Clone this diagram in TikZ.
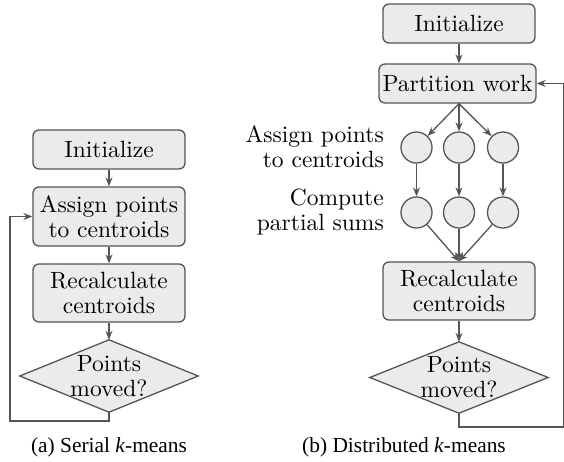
\documentclass[tikz,border=0pt]{standalone}
\usepackage{fontspec}
\setmainfont{lmroman10-regular.otf}[ItalicFont=lmroman10-italic.otf,BoldFont=lmroman10-bold.otf]
\newfontfamily\capfont{Liberation Serif}
\usetikzlibrary{arrows.meta,backgrounds}
\definecolor{linec}{HTML}{555555}
\definecolor{boxfill}{HTML}{EBEBEB}
\begin{document}
\begin{tikzpicture}[x=1pt,y=-1pt,
  font=\fontsize{23.5}{25}\selectfont,
  box/.style={draw=linec, fill=boxfill, rounded corners=6pt, line width=1.3pt,
    minimum width=152pt, inner sep=0pt, align=center},
  dec/.style={minimum width=178pt, minimum height=72pt, inner sep=0pt, align=center},
  decshape/.style={draw=linec, fill=boxfill, line width=1.3pt, line join=miter},
  worker/.style={draw=linec, fill=boxfill, circle, line width=1.3pt,
    minimum size=31pt, inner sep=0pt},
  lab/.style={align=right, anchor=east, inner sep=0pt},
  arr/.style={draw=linec, line width=1.3pt, -{Stealth[length=9pt,width=7pt,inset=3pt]}},
  captext/.style={font=\capfont\fontsize{21.4}{24}\selectfont, inner sep=0pt}
]
\useasboundingbox (0,0) rectangle (564,461);
% ---------- (a) serial ----------
\node[box, minimum height=39pt] (inita) at (109,149.5) {Initialize};
\node[box, minimum height=59pt] (assigna) at (109,216.5) {Assign points\\to centroids};
\node[box, minimum height=58pt] (recalca) at (109,293) {Recalculate\\centroids};
\node[dec] (deca) at (109,376) {Points\\moved?};
\begin{scope}[on background layer]
\draw[decshape] (deca.north) -- (deca.east) -- (deca.south) -- (deca.west) -- cycle;
\end{scope}
\coordinate (la1) at (109,421);
\coordinate (la2) at (10,421);
\coordinate (la3) at (10,216.5);
\draw[arr] (inita) -- (assigna);
\draw[arr] (assigna) -- (recalca);
\draw[arr] (recalca) -- (deca.north);
\draw[arr] (deca.south) -- (la1) -- (la2) -- (la3) -- (assigna.west);
\node[captext] (capa) at (109,447) {(a) Serial \textit{k}-means};
% ---------- (b) distributed ----------
\node[box, minimum height=39pt] (initb) at (459,23.5) {Initialize};
\node[box, minimum height=39pt, minimum width=157pt] (partb) at (457.5,83.5) {Partition work};
\node[worker] (c11) at (416.5,147.5) {};
\node[worker] (c12) at (459,147.5) {};
\node[worker] (c13) at (503,147.5) {};
\node[worker] (c21) at (416.5,212.5) {};
\node[worker] (c22) at (459,212.5) {};
\node[worker] (c23) at (503,212.5) {};
\node[lab] (labassign) at (384,147) {Assign points\\to centroids};
\node[lab] (labcompute) at (384,212) {Compute\\partial sums};
\node[box, minimum height=58pt] (recalcb) at (459,291) {Recalculate\\centroids};
\node[dec, minimum height=71pt] (decb) at (459,377.5) {Points\\moved?};
\begin{scope}[on background layer]
\draw[decshape] (decb.north) -- (decb.east) -- (decb.south) -- (decb.west) -- cycle;
\end{scope}
\coordinate (lb1) at (459,427);
\coordinate (lb2) at (563.4,427);
\coordinate (lb3) at (563.4,83.5);
\draw[arr] (initb) -- (initb |- partb.north);
\draw[arr] (partb.south -| c12) -- (c11);
\draw[arr] (partb.south -| c12) -- (c12);
\draw[arr] (partb.south -| c12) -- (c13);
\draw[arr] (c11) -- (c21);
\draw[arr] (c12) -- (c22);
\draw[arr] (c13) -- (c23);
\draw[arr] (c21) -- (recalcb.north -| c22);
\draw[arr] (c22) -- (recalcb.north -| c22);
\draw[arr] (c23) -- (recalcb.north -| c22);
\draw[arr] (recalcb) -- (decb.north);
\draw[arr] (decb.south) -- (lb1) -- (lb2) -- (lb3) -- (partb.east);
\node[captext] (capb) at (404,447) {(b) Distributed \textit{k}-means};
\end{tikzpicture}
\end{document}
